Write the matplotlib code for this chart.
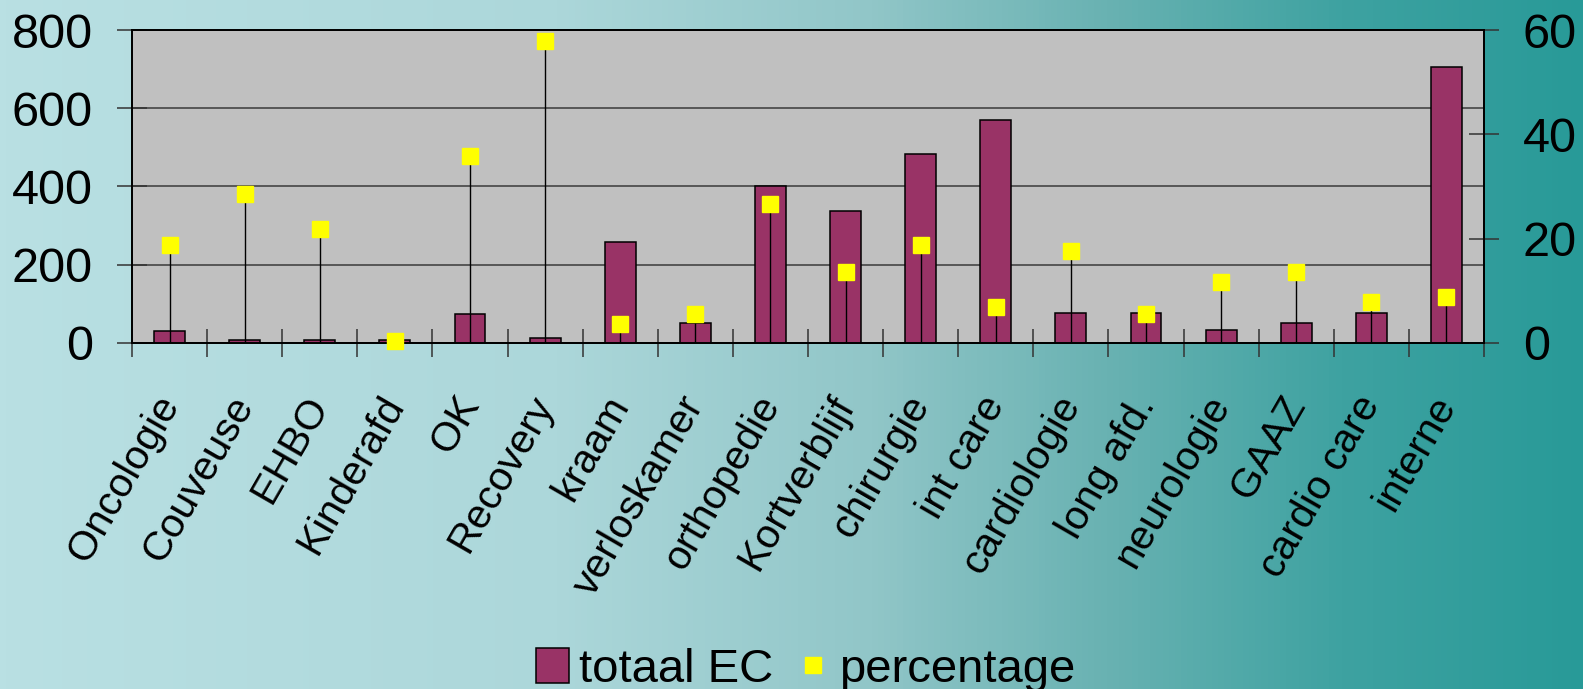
import matplotlib
matplotlib.use("Agg")
import matplotlib.pyplot as plt
import numpy as np
from matplotlib.patches import Patch
from matplotlib.lines import Line2D
from matplotlib.colors import LinearSegmentedColormap

plt.rcParams['font.family'] = ['Liberation Sans', 'DejaVu Sans']

categories = ["Oncologie", "Couveuse", "EHBO", "Kinderafd", "OK", "Recovery", "kraam",
              "verloskamer", "orthopedie", "Kortverblijf", "chirurgie", "int care",
              "cardiologie", "long afd.", "neurologie", "GAAZ", "cardio care", "interne"]
totaal_ec = [30, 8, 8, 8, 73, 12, 259, 50, 402, 338, 484, 571, 77, 77, 33, 51, 77, 706]
percentage = [18.8, 28.6, 21.9, 0.3, 35.8, 57.9, 3.6, 5.6, 26.6, 13.6, 18.8, 6.9,
              17.6, 5.6, 11.7, 13.6, 7.9, 8.8]
left_ticks = [0, 200, 400, 600, 800]
right_ticks = [0, 20, 40, 60]
legend_labels = ["totaal EC", "percentage"]

W, H = 1583, 689
fig = plt.figure(figsize=(W / 100, H / 100), dpi=100)

# background gradient
bg = fig.add_axes([0, 0, 1, 1], zorder=-10)
stops = [(0.0, (185/255, 224/255, 227/255)),
         (0.35, (172/255, 215/255, 218/255)),
         (0.55, (145/255, 198/255, 200/255)),
         (0.70, (105/255, 178/255, 178/255)),
         (0.85, (62/255, 162/255, 161/255)),
         (1.0, (40/255, 154/255, 152/255))]
cmap = LinearSegmentedColormap.from_list("bggrad", stops)
grad = np.linspace(0, 1, 512).reshape(1, -1)
bg.imshow(grad, aspect='auto', cmap=cmap, extent=[0, 1, 0, 1])
bg.set_axis_off()

left = 132 / W
right = 1484 / W
bottom = 1 - 343 / H
top = 1 - 30 / H
ax = fig.add_axes([left, bottom, right - left, top - bottom])
ax.set_facecolor('#c0c0c0')

x = np.arange(len(categories))
ax.bar(x, totaal_ec, width=0.41, color='#993366', edgecolor='black', linewidth=1.1, zorder=3)
ax.set_xlim(-0.5, len(categories) - 0.5)
ax.set_ylim(0, 800)
ax.set_yticks(left_ticks)
ax.set_yticklabels([str(t) for t in left_ticks], fontsize=35)
ax.yaxis.grid(True, color='#3a3a3a', linewidth=1.1, zorder=1)
ax.set_axisbelow(True)
ax.tick_params(axis='y', direction='inout', length=22, width=1.1, color='#333333', pad=17)

ax.set_xticks(x)
ax.set_xticklabels(categories, fontsize=29.5, rotation=60, rotation_mode='anchor',
                   ha='right', va='center')
ax.tick_params(axis='x', which='major', length=0, pad=40)
ax.set_xticks(np.arange(len(categories) + 1) - 0.5, minor=True)
ax.tick_params(axis='x', which='minor', direction='inout', length=20, width=1.1, color='#333333')
for s in ax.spines.values():
    s.set_color('black')
    s.set_linewidth(1.3)

ax2 = ax.twinx()
ax2.set_ylim(0, 60)
ax2.set_yticks(right_ticks)
ax2.set_yticklabels([str(t) for t in right_ticks], fontsize=35)
ax2.tick_params(axis='y', direction='inout', length=22, width=1.1, color='#333333', pad=17)
ax2.vlines(x, 0, percentage, colors='black', linewidth=1.0, zorder=4)
ax2.plot(x, percentage, linestyle='none', marker='s', markersize=11.5,
         markerfacecolor='#ffff00', markeredgecolor='#ffff00', zorder=5, clip_on=False)
for s in ax2.spines.values():
    s.set_color('black')
    s.set_linewidth(1.3)

handles = [Patch(facecolor='#993366', edgecolor='black', linewidth=1.1),
           Line2D([], [], linestyle='none', marker='s', markersize=11.5,
                  markerfacecolor='#ffff00', markeredgecolor='#ffff00')]
fig.legend(handles, legend_labels, loc='center', bbox_to_anchor=(0.509, 0.028),
           ncol=2, frameon=False, fontsize=34, handlelength=0.7, handleheight=0.75,
           handletextpad=0.2, columnspacing=0.5, borderpad=0)

fig.savefig("out.png", dpi=100)
